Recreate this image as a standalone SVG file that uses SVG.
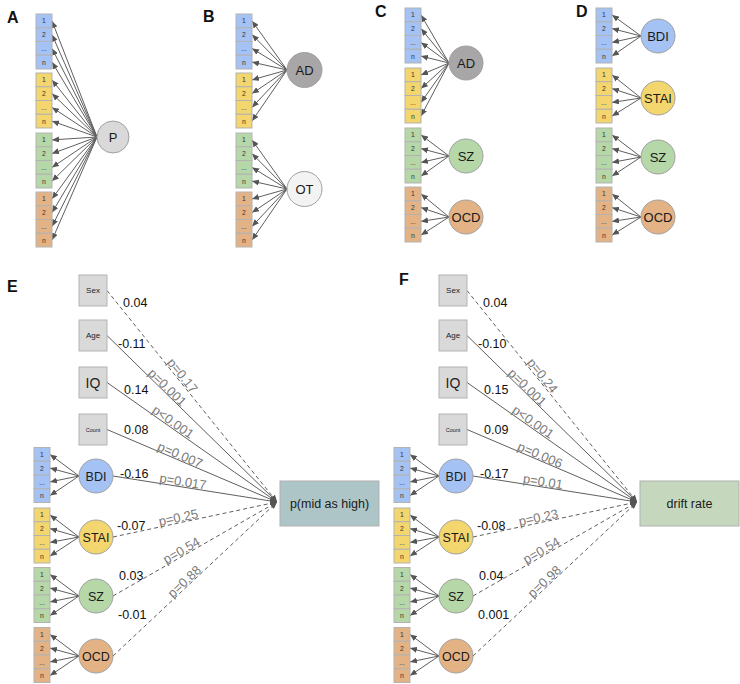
<svg xmlns="http://www.w3.org/2000/svg" xmlns:xlink="http://www.w3.org/1999/xlink" width="740" height="684" viewBox="0 0 740 684">
<style>
text{font-family:"Liberation Sans",Arial,sans-serif}
.ln{stroke:#5f5f5f;stroke-width:1;fill:none;marker-end:url(#ah)}
.dash{stroke-dasharray:4 3}
.cir{stroke:#a0a0a0;stroke-width:1}
.ct{font-size:13px;text-anchor:middle;fill:#1a1a1a}
.ct2{font-size:12.5px;text-anchor:middle;fill:#1a1a1a}
.coef{font-size:12.5px;fill:#111}
.pv{font-size:13px;fill:#7a7a7a;text-anchor:middle}
.box{fill:#d9d9d9;stroke:#b3b3b3;stroke-width:1}
.bt{text-anchor:middle;fill:#222}
.ttl{font-size:16px;font-weight:bold;fill:#111}
.blue{fill:#a4c2f4}.yel{fill:#f3d66d}.grn{fill:#b6d7a8}.org{fill:#e3b386}
</style>
<defs>
<marker id="ah" markerUnits="userSpaceOnUse" markerWidth="7" markerHeight="6" refX="7" refY="3" orient="auto">
<path d="M0,0 L7,3 L0,6 z" fill="#555"/>
</marker>
<g id="blk">
<rect x="0" y="0" width="16" height="13.75" stroke="#b3b3b3" stroke-width="1"/>
<rect x="0" y="13.75" width="16" height="13.75" stroke="#b3b3b3" stroke-width="1"/>
<rect x="0" y="27.5" width="16" height="13.75" stroke="#b3b3b3" stroke-width="1"/>
<rect x="0" y="41.25" width="16" height="13.75" stroke="#b3b3b3" stroke-width="1"/>
<text x="8" y="9.3" font-family="Liberation Sans, Arial, sans-serif" font-size="6.8" text-anchor="middle" fill="#333">1</text>
<text x="8" y="23" font-family="Liberation Sans, Arial, sans-serif" font-size="6.8" text-anchor="middle" fill="#333">2</text>
<text x="8" y="37" font-family="Liberation Sans, Arial, sans-serif" font-size="6.8" text-anchor="middle" fill="#333">...</text>
<text x="8" y="50.6" font-family="Liberation Sans, Arial, sans-serif" font-size="6.8" text-anchor="middle" fill="#333">n</text>
</g>
</defs>
<rect width="740" height="684" fill="#ffffff"/>

<!-- Titles -->
<text class="ttl" x="7" y="23">A</text>
<text class="ttl" x="203" y="22">B</text>
<text class="ttl" x="375" y="17">C</text>
<text class="ttl" x="576" y="17">D</text>
<text class="ttl" x="7" y="292">E</text>
<text class="ttl" x="399" y="285">F</text>

<!-- Panel A -->
<g id="A-connectors">
<path class="ln" d="M97,137 L52,20.9"/><path class="ln" d="M97,137 L52,34.6"/><path class="ln" d="M97,137 L52,48.4"/><path class="ln" d="M97,137 L52,62.1"/>
<path class="ln" d="M97,137 L52,79.9"/><path class="ln" d="M97,137 L52,93.6"/><path class="ln" d="M97,137 L52,107.4"/><path class="ln" d="M97,137 L52,121.1"/>
<path class="ln" d="M97,137 L52,139.9"/><path class="ln" d="M97,137 L52,153.6"/><path class="ln" d="M97,137 L52,167.4"/><path class="ln" d="M97,137 L52,181.1"/>
<path class="ln" d="M97,137 L52,198.9"/><path class="ln" d="M97,137 L52,212.6"/><path class="ln" d="M97,137 L52,226.4"/><path class="ln" d="M97,137 L52,240.1"/>
</g>
<g id="A-items-blue"><use xlink:href="#blk" href="#blk" x="36" y="14" class="blue"/></g>
<g id="A-items-yellow"><use xlink:href="#blk" href="#blk" x="36" y="73" class="yel"/></g>
<g id="A-items-green"><use xlink:href="#blk" href="#blk" x="36" y="133" class="grn"/></g>
<g id="A-items-orange"><use xlink:href="#blk" href="#blk" x="36" y="192" class="org"/></g>
<g id="A-P"><circle class="cir" cx="113" cy="137" r="16" fill="#d9d9d9"/><text class="ct" x="113" y="141.6">P</text></g>

<!-- Panel B -->
<g id="B-connectors">
<path class="ln" d="M287,70 L252,20.9"/><path class="ln" d="M287,70 L252,34.6"/><path class="ln" d="M287,70 L252,48.4"/><path class="ln" d="M287,70 L252,62.1"/>
<path class="ln" d="M287,70 L252,79.9"/><path class="ln" d="M287,70 L252,93.6"/><path class="ln" d="M287,70 L252,107.4"/><path class="ln" d="M287,70 L252,121.1"/>
<path class="ln" d="M287,189 L252,139.9"/><path class="ln" d="M287,189 L252,153.6"/><path class="ln" d="M287,189 L252,167.4"/><path class="ln" d="M287,189 L252,181.1"/>
<path class="ln" d="M287,189 L252,198.9"/><path class="ln" d="M287,189 L252,212.6"/><path class="ln" d="M287,189 L252,226.4"/><path class="ln" d="M287,189 L252,240.1"/>
</g>
<g id="B-items-blue"><use xlink:href="#blk" href="#blk" x="236" y="14" class="blue"/></g>
<g id="B-items-yellow"><use xlink:href="#blk" href="#blk" x="236" y="73" class="yel"/></g>
<g id="B-items-green"><use xlink:href="#blk" href="#blk" x="236" y="133" class="grn"/></g>
<g id="B-items-orange"><use xlink:href="#blk" href="#blk" x="236" y="192" class="org"/></g>
<g id="B-AD"><circle class="cir" cx="304.5" cy="70" r="17.5" fill="#a8a6a7"/><text class="ct" x="304.5" y="74.6">AD</text></g>
<g id="B-OT"><circle class="cir" cx="304.5" cy="189" r="17.5" fill="#f3f3f3"/><text class="ct" x="304.5" y="193.6">OT</text></g>

<!-- Panel C -->
<g id="C-connectors">
<path class="ln" d="M449,63 L421,14.9"/><path class="ln" d="M449,63 L421,28.6"/><path class="ln" d="M449,63 L421,42.4"/><path class="ln" d="M449,63 L421,56.1"/>
<path class="ln" d="M449,63 L421,74.9"/><path class="ln" d="M449,63 L421,88.6"/><path class="ln" d="M449,63 L421,102.4"/><path class="ln" d="M449,63 L421,116.1"/>
<path class="ln" d="M449,156 L421,134.9"/><path class="ln" d="M449,156 L421,148.6"/><path class="ln" d="M449,156 L421,162.4"/><path class="ln" d="M449,156 L421,176.1"/>
<path class="ln" d="M449,217 L421,193.9"/><path class="ln" d="M449,217 L421,207.6"/><path class="ln" d="M449,217 L421,221.4"/><path class="ln" d="M449,217 L421,235.1"/>
</g>
<g id="C-items-blue"><use xlink:href="#blk" href="#blk" x="405" y="8" class="blue"/></g>
<g id="C-items-yellow"><use xlink:href="#blk" href="#blk" x="405" y="68" class="yel"/></g>
<g id="C-items-green"><use xlink:href="#blk" href="#blk" x="405" y="128" class="grn"/></g>
<g id="C-items-orange"><use xlink:href="#blk" href="#blk" x="405" y="187" class="org"/></g>
<g id="C-AD"><circle class="cir" cx="466" cy="63" r="17" fill="#a8a6a7"/><text class="ct" x="466" y="67.6">AD</text></g>
<g id="C-SZ"><circle class="cir" cx="466" cy="156" r="17" fill="#b6d7a8"/><text class="ct" x="466" y="160.6">SZ</text></g>
<g id="C-OCD"><circle class="cir" cx="466" cy="217" r="17" fill="#e3b386"/><text class="ct" x="466" y="221.6">OCD</text></g>

<!-- Panel D -->
<g id="D-connectors">
<path class="ln" d="M641,36 L612,14.9"/><path class="ln" d="M641,36 L612,28.6"/><path class="ln" d="M641,36 L612,42.4"/><path class="ln" d="M641,36 L612,56.1"/>
<path class="ln" d="M641,98 L612,74.9"/><path class="ln" d="M641,98 L612,88.6"/><path class="ln" d="M641,98 L612,102.4"/><path class="ln" d="M641,98 L612,116.1"/>
<path class="ln" d="M641,157 L612,134.9"/><path class="ln" d="M641,157 L612,148.6"/><path class="ln" d="M641,157 L612,162.4"/><path class="ln" d="M641,157 L612,176.1"/>
<path class="ln" d="M641,217 L612,193.9"/><path class="ln" d="M641,217 L612,207.6"/><path class="ln" d="M641,217 L612,221.4"/><path class="ln" d="M641,217 L612,235.1"/>
</g>
<g id="D-items-blue"><use xlink:href="#blk" href="#blk" x="596" y="8" class="blue"/></g>
<g id="D-items-yellow"><use xlink:href="#blk" href="#blk" x="596" y="68" class="yel"/></g>
<g id="D-items-green"><use xlink:href="#blk" href="#blk" x="596" y="128" class="grn"/></g>
<g id="D-items-orange"><use xlink:href="#blk" href="#blk" x="596" y="187" class="org"/></g>
<g id="D-BDI"><circle class="cir" cx="658" cy="36" r="17" fill="#a4c2f4"/><text class="ct" x="658" y="40.6">BDI</text></g>
<g id="D-STAI"><circle class="cir" cx="658" cy="98" r="17" fill="#f3d66d"/><text class="ct" x="658" y="102.6">STAI</text></g>
<g id="D-SZ"><circle class="cir" cx="658" cy="157" r="17" fill="#b6d7a8"/><text class="ct" x="658" y="161.6">SZ</text></g>
<g id="D-OCD"><circle class="cir" cx="658" cy="217" r="17" fill="#e3b386"/><text class="ct" x="658" y="221.6">OCD</text></g>

<!-- Panel E -->
<g id="E-connectors">
<path class="ln" d="M79,476 L50,454.4"/><path class="ln" d="M79,476 L50,468.1"/><path class="ln" d="M79,476 L50,481.9"/><path class="ln" d="M79,476 L50,495.6"/>
<path class="ln" d="M79,537 L50,514.9"/><path class="ln" d="M79,537 L50,528.6"/><path class="ln" d="M79,537 L50,542.4"/><path class="ln" d="M79,537 L50,556.1"/>
<path class="ln" d="M79,596 L50,574.4"/><path class="ln" d="M79,596 L50,588.1"/><path class="ln" d="M79,596 L50,601.9"/><path class="ln" d="M79,596 L50,615.6"/>
<path class="ln" d="M79,656 L50,634.4"/><path class="ln" d="M79,656 L50,648.1"/><path class="ln" d="M79,656 L50,661.9"/><path class="ln" d="M79,656 L50,675.6"/>
<path class="ln dash" d="M107,290.5 L277,502"/>
<path class="ln" d="M107,335.5 L277,502"/>
<path class="ln" d="M107,382.5 L277,502"/>
<path class="ln" d="M107,429.5 L277,502"/>
<path class="ln" d="M113,476 L277,502"/>
<path class="ln dash" d="M113,537 L277,502"/>
<path class="ln dash" d="M113,596 L277,502"/>
<path class="ln dash" d="M113,656 L277,502"/>
</g>
<g id="E-labels">
<text class="coef" x="123" y="306.5">0.04</text>
<text class="coef" x="118" y="347.5">-0.11</text>
<text class="coef" x="124" y="393.5">0.14</text>
<text class="coef" x="124" y="433.5">0.08</text>
<text class="coef" x="120" y="477.5">-0.16</text>
<text class="coef" x="117" y="529.5">-0.07</text>
<text class="coef" x="119" y="579.5">0.03</text>
<text class="coef" x="118" y="618.5">-0.01</text>
<text class="pv" transform="translate(178.3,379) rotate(51.3)" y="-1">p=0.17</text>
<text class="pv" transform="translate(163.5,391.2) rotate(44.3)" y="-1">p=0.001</text>
<text class="pv" transform="translate(169.9,426.4) rotate(35.2)" y="-1">p&lt;0.001</text>
<text class="pv" transform="translate(177.9,460) rotate(23)" y="-1">p=0.007</text>
<text class="pv" transform="translate(182.1,487) rotate(9)" y="-1">p=0.017</text>
<text class="pv" transform="translate(179.5,522.8) rotate(-12.05)" y="-1">p=0.25</text>
<text class="pv" transform="translate(184.2,555.2) rotate(-29.8)" y="-1">p=0.54</text>
<text class="pv" transform="translate(188.1,585.5) rotate(-43.2)" y="-1">p=0.88</text>
</g>
<g id="E-Sex"><rect class="box" x="79" y="275" width="28" height="31"/><text class="bt" x="93" y="293.3" font-size="8">Sex</text></g>
<g id="E-Age"><rect class="box" x="79" y="320" width="28" height="31"/><text class="bt" x="93" y="338.3" font-size="8">Age</text></g>
<g id="E-IQ"><rect class="box" x="79" y="367" width="28" height="31"/><text class="bt" x="93" y="387.5" font-size="14">IQ</text></g>
<g id="E-Count"><rect class="box" x="79" y="414" width="28" height="31"/><text class="bt" x="93" y="431.5" font-size="5.5">Count</text></g>
<g id="E-items-blue"><use xlink:href="#blk" href="#blk" x="34" y="447.5" class="blue"/></g>
<g id="E-items-yellow"><use xlink:href="#blk" href="#blk" x="34" y="508" class="yel"/></g>
<g id="E-items-green"><use xlink:href="#blk" href="#blk" x="34" y="567.5" class="grn"/></g>
<g id="E-items-orange"><use xlink:href="#blk" href="#blk" x="34" y="627.5" class="org"/></g>
<g id="E-BDI"><circle class="cir" cx="96" cy="476" r="17" fill="#a4c2f4"/><text class="ct2" x="96" y="480.5">BDI</text></g>
<g id="E-STAI"><circle class="cir" cx="96" cy="537" r="17" fill="#f3d66d"/><text class="ct2" x="96" y="541.5">STAI</text></g>
<g id="E-SZ"><circle class="cir" cx="96" cy="596" r="17" fill="#b6d7a8"/><text class="ct2" x="96" y="600.5">SZ</text></g>
<g id="E-OCD"><circle class="cir" cx="96" cy="656" r="17" fill="#e3b386"/><text class="ct2" x="96" y="660.5">OCD</text></g>
<g id="E-target"><rect x="280" y="481" width="99" height="45" fill="#adc5c7" stroke="#b0b0b0"/><text class="ct2" x="329.5" y="507.5">p(mid as high)</text></g>

<!-- Panel F -->
<g id="F-connectors" transform="translate(360,0)">
<path class="ln" d="M79,476 L50,454.4"/><path class="ln" d="M79,476 L50,468.1"/><path class="ln" d="M79,476 L50,481.9"/><path class="ln" d="M79,476 L50,495.6"/>
<path class="ln" d="M79,537 L50,514.9"/><path class="ln" d="M79,537 L50,528.6"/><path class="ln" d="M79,537 L50,542.4"/><path class="ln" d="M79,537 L50,556.1"/>
<path class="ln" d="M79,596 L50,574.4"/><path class="ln" d="M79,596 L50,588.1"/><path class="ln" d="M79,596 L50,601.9"/><path class="ln" d="M79,596 L50,615.6"/>
<path class="ln" d="M79,656 L50,634.4"/><path class="ln" d="M79,656 L50,648.1"/><path class="ln" d="M79,656 L50,661.9"/><path class="ln" d="M79,656 L50,675.6"/>
<path class="ln dash" d="M107,290.5 L277,502"/>
<path class="ln" d="M107,335.5 L277,502"/>
<path class="ln" d="M107,382.5 L277,502"/>
<path class="ln" d="M107,429.5 L277,502"/>
<path class="ln" d="M113,476 L277,502"/>
<path class="ln dash" d="M113,537 L277,502"/>
<path class="ln dash" d="M113,596 L277,502"/>
<path class="ln dash" d="M113,656 L277,502"/>
</g>
<g id="F-labels" transform="translate(360,0)">
<text class="coef" x="123" y="306.5">0.04</text>
<text class="coef" x="118" y="347.5">-0.10</text>
<text class="coef" x="124" y="393.5">0.15</text>
<text class="coef" x="124" y="433.5">0.09</text>
<text class="coef" x="120" y="477.5">-0.17</text>
<text class="coef" x="117" y="529.5">-0.08</text>
<text class="coef" x="119" y="579.5">0.04</text>
<text class="coef" x="118" y="618.5">0.001</text>
<text class="pv" transform="translate(178.3,379) rotate(51.3)" y="-1">p=0.24</text>
<text class="pv" transform="translate(163.5,391.2) rotate(44.3)" y="-1">p=0.001</text>
<text class="pv" transform="translate(169.9,426.4) rotate(35.2)" y="-1">p&lt;0.001</text>
<text class="pv" transform="translate(177.9,460) rotate(23)" y="-1">p=0.006</text>
<text class="pv" transform="translate(182.1,487) rotate(9)" y="-1">p=0.01</text>
<text class="pv" transform="translate(179.5,522.8) rotate(-12.05)" y="-1">p=0.23</text>
<text class="pv" transform="translate(184.2,555.2) rotate(-29.8)" y="-1">p=0.54</text>
<text class="pv" transform="translate(188.1,585.5) rotate(-43.2)" y="-1">p=0.98</text>
</g>
<g id="F-Sex"><rect class="box" x="439" y="275" width="28" height="31"/><text class="bt" x="453" y="293.3" font-size="8">Sex</text></g>
<g id="F-Age"><rect class="box" x="439" y="320" width="28" height="31"/><text class="bt" x="453" y="338.3" font-size="8">Age</text></g>
<g id="F-IQ"><rect class="box" x="439" y="367" width="28" height="31"/><text class="bt" x="453" y="387.5" font-size="14">IQ</text></g>
<g id="F-Count"><rect class="box" x="439" y="414" width="28" height="31"/><text class="bt" x="453" y="431.5" font-size="5.5">Count</text></g>
<g id="F-items-blue"><use xlink:href="#blk" href="#blk" x="394" y="447.5" class="blue"/></g>
<g id="F-items-yellow"><use xlink:href="#blk" href="#blk" x="394" y="508" class="yel"/></g>
<g id="F-items-green"><use xlink:href="#blk" href="#blk" x="394" y="567.5" class="grn"/></g>
<g id="F-items-orange"><use xlink:href="#blk" href="#blk" x="394" y="627.5" class="org"/></g>
<g id="F-BDI"><circle class="cir" cx="456" cy="476" r="17" fill="#a4c2f4"/><text class="ct2" x="456" y="480.5">BDI</text></g>
<g id="F-STAI"><circle class="cir" cx="456" cy="537" r="17" fill="#f3d66d"/><text class="ct2" x="456" y="541.5">STAI</text></g>
<g id="F-SZ"><circle class="cir" cx="456" cy="596" r="17" fill="#b6d7a8"/><text class="ct2" x="456" y="600.5">SZ</text></g>
<g id="F-OCD"><circle class="cir" cx="456" cy="656" r="17" fill="#e3b386"/><text class="ct2" x="456" y="660.5">OCD</text></g>
<g id="F-target"><rect x="640" y="481" width="99" height="45" fill="#c5d8bd" stroke="#b0b0b0"/><text class="ct2" x="689.5" y="507.5">drift rate</text></g>
</svg>
